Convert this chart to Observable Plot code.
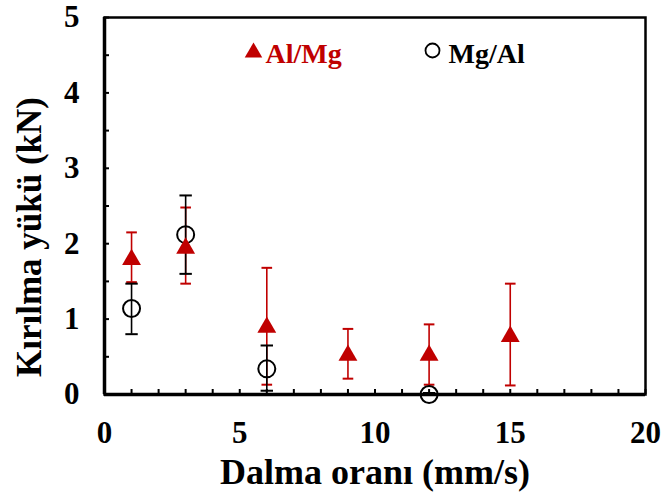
<!DOCTYPE html>
<html>
<head>
<meta charset="utf-8">
<script src="https://cdn.jsdelivr.net/npm/d3@7"></script>
<script src="https://cdn.jsdelivr.net/npm/@observablehq/plot@0.6"></script>
<style>
  html, body { margin: 0; padding: 0; background: #fff; }
  #chart { width: 664px; height: 495px; }
  #chart svg, #chart svg text { font-family: "Liberation Serif", "Times New Roman", serif !important; font-weight: bold; }
</style>
</head>
<body>
<div id="chart"></div>
<script>
// Al/Mg series (red triangles)
const alMgX = [1, 3, 6, 9, 12, 15];
const alMgY = [1.79, 1.94, 0.89, 0.52, 0.52, 0.77];
const alMgLo = [1.49, 1.47, 0.13, 0.21, 0.13, 0.12];
const alMgHi = [2.15, 2.48, 1.68, 0.87, 0.93, 1.47];

// Mg/Al series (open black circles)
const mgAlX = [1, 3, 6, 12];
const mgAlY = [1.14, 2.12, 0.34, 0.0];
const mgAlLo = [0.80, 1.60, 0.05, 0.0];
const mgAlHi = [1.47, 2.64, 0.65, 0.02];

const xTicks = [0, 5, 10, 15, 20];
const yTicks = [0, 1, 2, 3, 4, 5];
const xMinor = [0,1,2,3,4,5,6,7,8,9,10,11,12,13,14,15,16,17,18,19,20];
const yMinor = [0,0.5,1,1.5,2,2.5,3,3.5,4,4.5,5];

const seriesNames = ["Al/Mg", "Mg/Al"];
const xLabel = "Dalma oranı (mm/s)";
const yLabel = "Kırılma yükü (kN)";
const RED = "#c00000";

const alMg = alMgX.map((x, i) => ({x, y: alMgY[i], lo: alMgLo[i], hi: alMgHi[i]}));
const mgAl = mgAlX.map((x, i) => ({x, y: mgAlY[i], lo: mgAlLo[i], hi: mgAlHi[i]}));

const capSymbol = {
  draw(context, size) {
    const w = Math.sqrt(size) / 2;
    context.moveTo(-w, 0);
    context.lineTo(w, 0);
  }
};

const font = "Liberation Serif";

const chart = Plot.plot({
  width: 664,
  height: 495,
  marginLeft: 104,
  marginRight: 19,
  marginTop: 17,
  marginBottom: 101,
  style: {fontFamily: font, fontWeight: "bold", fontSize: "31px", color: "#000", background: "#fff"},
  x: {domain: [0, 20]},
  y: {domain: [0, 5]},
  marks: [
    Plot.frame({stroke: "#000", strokeWidth: 2.5}),
    // minor inward ticks
    Plot.axisX({ticks: xMinor, tickSize: -5, tickFormat: () => "", strokeWidth: 2, label: null}),
    Plot.axisY({ticks: yMinor, tickSize: -5, tickFormat: () => "", strokeWidth: 2, label: null}),
    // tick labels
    Plot.axisX({ticks: xTicks, tickSize: 0, tickPadding: 26, fontSize: 31, fontFamily: font, tickFormat: d => String(d), label: null}),
    Plot.axisY({ticks: yTicks, tickSize: 0, tickPadding: 25, fontSize: 31, fontFamily: font, tickFormat: d => String(d), label: null}),
    // axis titles
    Plot.axisX({ticks: [], tickSize: 0, fontSize: 36, fontFamily: font,
      label: xLabel, labelAnchor: "center", labelArrow: "none", labelOffset: 89}),
    Plot.text([yLabel], {frameAnchor: "left", rotate: -90, dx: -75, dy: 31, text: d => d,
      textAnchor: "middle", lineAnchor: "middle", fontSize: 35, fontFamily: font, fill: "#000"}),
    Plot.ruleY([0], {stroke: "#000", strokeWidth: 3.5}),
    Plot.ruleX([0], {stroke: "#000", strokeWidth: 3.5}),
    // Al/Mg error bars
    Plot.ruleX(alMg, {x: "x", y1: "lo", y2: "hi", stroke: RED, strokeWidth: 1.6}),
    Plot.dot(alMg, {x: "x", y: "lo", symbol: capSymbol, r: 6, stroke: RED, strokeWidth: 2}),
    Plot.dot(alMg, {x: "x", y: "hi", symbol: capSymbol, r: 6, stroke: RED, strokeWidth: 2}),
    // Mg/Al error bars
    Plot.ruleX(mgAl, {x: "x", y1: "lo", y2: "hi", stroke: "#000", strokeWidth: 1.6}),
    Plot.dot(mgAl, {x: "x", y: "lo", symbol: capSymbol, r: 7, stroke: "#000", strokeWidth: 2}),
    Plot.dot(mgAl, {x: "x", y: "hi", symbol: capSymbol, r: 7, stroke: "#000", strokeWidth: 2}),
    // points
    Plot.dot(mgAl, {x: "x", y: "y", r: 8.5, stroke: "#000", strokeWidth: 2, fill: "none"}),
    Plot.dot(alMg, {x: "x", y: "y", symbol: "triangle", r: 7, fill: RED, stroke: "none"}),
    // legend
    Plot.dot([seriesNames[0]], {frameAnchor: "top-left", dx: 149, dy: 35, symbol: "triangle", r: 6.5, fill: RED}),
    Plot.text([seriesNames[0]], {frameAnchor: "top-left", dx: 161, dy: 37, text: d => d, textAnchor: "start", lineAnchor: "middle", fill: RED, fontSize: 28, fontFamily: font}),
    Plot.dot([seriesNames[1]], {frameAnchor: "top-left", dx: 328, dy: 33, r: 7, stroke: "#000", strokeWidth: 1.8, fill: "none"}),
    Plot.text([seriesNames[1]], {frameAnchor: "top-left", dx: 344, dy: 37, text: d => d, textAnchor: "start", lineAnchor: "middle", fill: "#000", fontSize: 28, fontFamily: font})
  ]
});
document.getElementById("chart").appendChild(chart);
</script>
</body>
</html>
